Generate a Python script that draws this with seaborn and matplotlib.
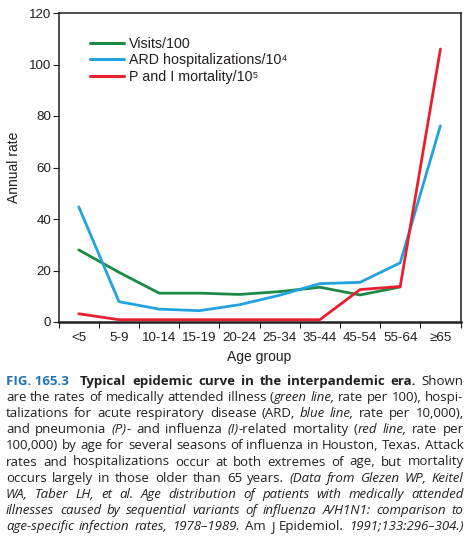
import numpy as np
import pandas as pd
import matplotlib
matplotlib.use("Agg")
import matplotlib.pyplot as plt
import seaborn as sns

# ---------------- data ----------------
age_groups = ["<5", "5-9", "10-14", "15-19", "20-24", "25-34", "35-44", "45-54", "55-64", "≥65"]
visits_per_100 = [28.0, 19.3, 11.2, 11.2, 10.7, 11.8, 13.5, 10.5, 13.6, np.nan]
ard_hosp_per_1e4 = [44.7, 7.9, 5.0, 4.4, 6.7, 10.4, 14.9, 15.4, 23.0, 76.2]
pi_mortality_per_1e5 = [3.2, 0.9, 0.9, 0.9, 0.9, 0.9, 0.9, 12.6, 13.8, 106.0]
series_names = ["Visits/100", "ARD hospitalizations/10⁴", "P and I mortality/10⁵"]
series_colors = ["#1b8a45", "#22a3de", "#e8202e"]
y_ticks = [0, 20, 40, 60, 80, 100, 120]

# ---------------- style ----------------
sns.set_style("ticks")
plt.rcParams["font.family"] = ["Liberation Sans", "DejaVu Sans"]
plt.rcParams["text.color"] = "#231f20"
plt.rcParams["axes.labelcolor"] = "#231f20"
plt.rcParams["xtick.color"] = "#231f20"
plt.rcParams["ytick.color"] = "#231f20"

W, H = 471, 539
fig = plt.figure(figsize=(W / 100, H / 100), dpi=100)
ax = fig.add_axes([58.7 / W, 1 - 322 / H, (460.5 - 58.7) / W, (322 - 13) / H])

pos = np.arange(len(age_groups))
frames = []
for name, vals in zip(series_names, [visits_per_100, ard_hosp_per_1e4, pi_mortality_per_1e5]):
    frames.append(pd.DataFrame({"pos": pos, "age": age_groups, "rate": vals, "series": name}))
df = pd.concat(frames, ignore_index=True).dropna()

sns.lineplot(data=df, x="pos", y="rate", hue="series", hue_order=series_names,
             palette=dict(zip(series_names, series_colors)), linewidth=2.0,
             errorbar=None, ax=ax, legend=True)

handles, labels = ax.get_legend_handles_labels()
ax.legend_.remove()
for h in handles:
    h.set_linewidth(2.2)
leg = ax.legend(handles, labels, loc="upper left", bbox_to_anchor=(0.078, 0.9235),
                frameon=False, fontsize=10.3, handlelength=2.4, handletextpad=0.35,
                labelspacing=0.2, borderpad=0, borderaxespad=0)
for t in leg.get_texts():
    t.set_color("#231f20")

ax.set_xlim(-0.5, len(age_groups) - 0.5)
ax.set_ylim(0, 120)
ax.set_yticks(y_ticks)
ax.set_yticklabels([str(v) for v in y_ticks], fontsize=9.6)
ax.set_xticks(pos)
ax.set_xticklabels(age_groups, fontsize=9.6)
ax.set_xticks(np.arange(-0.5, len(age_groups), 1.0), minor=True)
ax.tick_params(axis="x", which="major", length=0, pad=7)
ax.tick_params(axis="x", which="minor", length=4, width=0.8, direction="out")
ax.tick_params(axis="y", which="major", length=4.5, width=0.8, direction="out", pad=1)

for side in ["left", "top", "right"]:
    ax.spines[side].set_linewidth(1.1)
    ax.spines[side].set_color("#231f20")
ax.spines["bottom"].set_linewidth(1.8)
ax.spines["bottom"].set_color("#231f20")

ax.set_xlabel("Age group", fontsize=10)
ax.set_ylabel("Annual rate", fontsize=10)
ax.xaxis.set_label_coords(0.5, -0.09)
ax.yaxis.set_label_coords(-0.094, 0.5)

# ---------------- caption (justified) ----------------
cap_font = ["Open Sans", "DejaVu Sans"]
styles = {
    "fb": dict(weight="bold", color="#1f74b8", style="normal"),
    "b": dict(weight="bold", color="#231f20", style="normal"),
    "n": dict(weight="normal", color="#231f20", style="normal"),
    "i": dict(weight="normal", color="#231f20", style="italic"),
}
caption_lines = [
    [("FIG.\u00a0165.3", "fb"), ("  Typical epidemic curve in the interpandemic era.", "b"), (" Shown", "n")],
    [("are the rates of medically attended illness (", "n"), ("green line,", "i"), (" rate per 100), hospi-", "n")],
    [("talizations for acute respiratory disease (ARD, ", "n"), ("blue line,", "i"), (" rate per 10,000),", "n")],
    [("and pneumonia ", "n"), ("(P)", "i"), ("- and influenza ", "n"), ("(I)", "i"),
     ("-related mortality (", "n"), ("red line,", "i"), (" rate per", "n")],
    [("100,000) by age for several seasons of influenza in Houston, Texas. Attack", "n")],
    [("rates and hospitalizations occur at both extremes of age, but mortality", "n")],
    [("occurs largely in those older than 65 years. ", "n"), ("(Data from Glezen WP, Keitel", "i")],
    [("WA, Taber LH, et al. Age distribution of patients with medically attended", "i")],
    [("illnesses caused by sequential variants of influenza A/H1N1: comparison to", "i")],
    [("age-specific infection rates, 1978–1989. ", "i"), ("Am J Epidemiol. ", "n"), ("1991;133:296–304.)", "i")],
]

renderer = fig.canvas.get_renderer()


def words_from_runs(runs):
    words, cur, gaps = [], [], []
    for text, st in runs:
        parts = text.split(" ")
        for k, p in enumerate(parts):
            if k > 0:
                if cur:
                    words.append(cur)
                    cur = []
                    gaps.append(1.0)
                elif words:
                    gaps[-1] += 1.0
            if p:
                cur.append((p, st))
    if cur:
        words.append(cur)
    return words, gaps


def measure(s, st, size):
    t = fig.text(0, 0, s, fontsize=size, family=cap_font, **styles[st])
    w = t.get_window_extent(renderer).width
    t.remove()
    return w


x_left, x_right = 6.0, 463.5
avail = x_right - x_left
base_size = 9.0
space_w = measure("a a", "n", base_size) - measure("aa", "n", base_size)
ratios = []
parsed = [words_from_runs(r) for r in caption_lines]
for words, gaps in parsed:
    nat = sum(measure(p, st, base_size) for w in words for p, st in w) + space_w * sum(gaps)
    ratios.append(avail / nat)
cap_size = base_size * min(ratios)

base0, dy = 385.0, 16.1
for li, (words, gaps) in enumerate(parsed):
    widths = [[measure(p, st, cap_size) for p, st in w] for w in words]
    total = sum(sum(ws) for ws in widths)
    free = avail - total
    unit = free / sum(gaps) if gaps else 0.0
    x = x_left
    yb = base0 + li * dy
    for wi, (w, ws) in enumerate(zip(words, widths)):
        for (p, st), pw in zip(w, ws):
            fig.text(x / W, 1 - yb / H, p, fontsize=cap_size, family=cap_font,
                     ha="left", va="baseline", **styles[st])
            x += pw
        if wi < len(gaps):
            x += unit * gaps[wi]

fig.savefig("out.png", dpi=100)
